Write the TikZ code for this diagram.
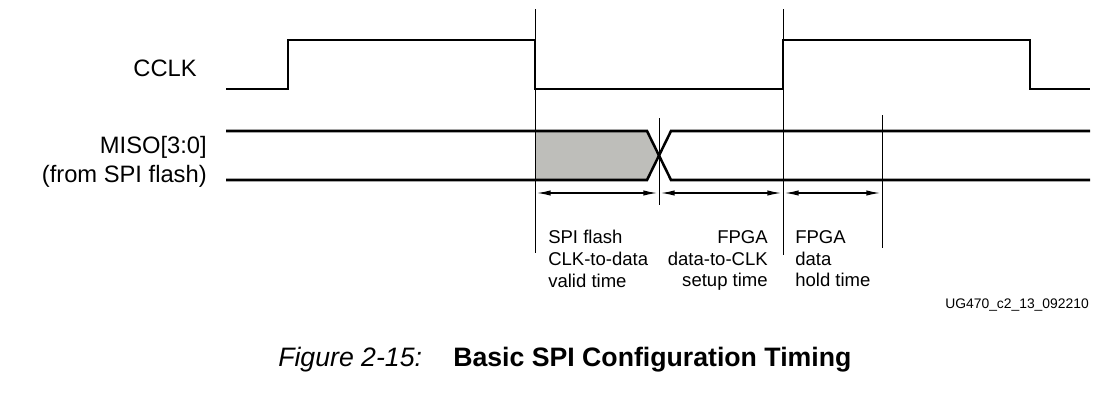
\documentclass[tikz,border=0pt]{standalone}
\usepackage{fontspec}
\setmainfont{Liberation Sans}
\usepackage{tikz}
\usetikzlibrary{arrows.meta}

\definecolor{validgray}{RGB}{190,190,186}

\begin{document}
\begin{tikzpicture}[x=0.75pt, y=-0.75pt,
    timing/.style={line width=1.9pt},
    guide/.style={line width=0.75pt},
    interval/.style={line width=1pt, <->, >={Latex[length=10.5pt,width=4pt]}, shorten <=1.2pt, shorten >=1.2pt},
    siglabel/.style={inner sep=0pt, font=\fontsize{17.8}{21.8}\selectfont},
    note/.style={inner sep=0pt, font=\fontsize{13.9}{16.4}\selectfont}]

    \useasboundingbox (0,0) rectangle (1120,401);

    \fill[validgray] (535,131) -- (647,131) -- (659,155.5) -- (647,180) -- (535,180) -- cycle;

    \draw[timing] (226,89) -- (288,89) -- (288,40) -- (535,40) -- (535,89)
        -- (783,89) -- (783,40) -- (1030,40) -- (1030,89) -- (1090,89);

    \draw[timing] (226,131) -- (647,131) -- (671,180) -- (1090,180);
    \draw[timing] (226,180) -- (647,180) -- (671,131) -- (1090,131);

    \draw[guide] (535,9) -- (535,253);
    \draw[guide] (659,118) -- (659,205);
    \draw[guide] (783,9) -- (783,255);
    \draw[guide] (882,115) -- (882,248);

    \coordinate (t0) at (535,193);
    \coordinate (t1) at (659,193);
    \coordinate (t2) at (783,193);
    \coordinate (t3) at (882,193);

    \draw[interval] (t0) -- (t1);
    \draw[interval] (t1) -- (t2);
    \draw[interval] (t2) -- (t3);

    \node[siglabel, anchor=east] (cclk) at (197,68) {CCLK};
    \node[siglabel, anchor=north east, align=right] (miso) at (207,136)
    {MISO[3:0]\\(from SPI flash)};

    \node[note, anchor=north west, align=left] (valid) at (548,230)
    {SPI flash\\CLK-to-data\\valid time};
    \node[note, anchor=north east, align=right] (setup) at (768,230)
    {FPGA\\data-to-CLK\\setup time};
    \node[note, anchor=north west, align=left] (hold) at (795,230)
    {FPGA\\data\\hold time};

    \node[inner sep=0pt, anchor=east, font=\fontsize{10.4}{12}\selectfont] (tag) at (1089,305)
    {UG470\_c2\_13\_092210};

    \node[inner sep=0pt, anchor=base west, font=\fontsize{20}{24}\selectfont\itshape] (fig) at (278,366)
    {Figure 2-15:};
    \node[inner sep=0pt, anchor=base west, font=\fontsize{20}{24}\selectfont\bfseries] (title) at (453,366)
    {Basic SPI Configuration Timing};

\end{tikzpicture}
\end{document}
